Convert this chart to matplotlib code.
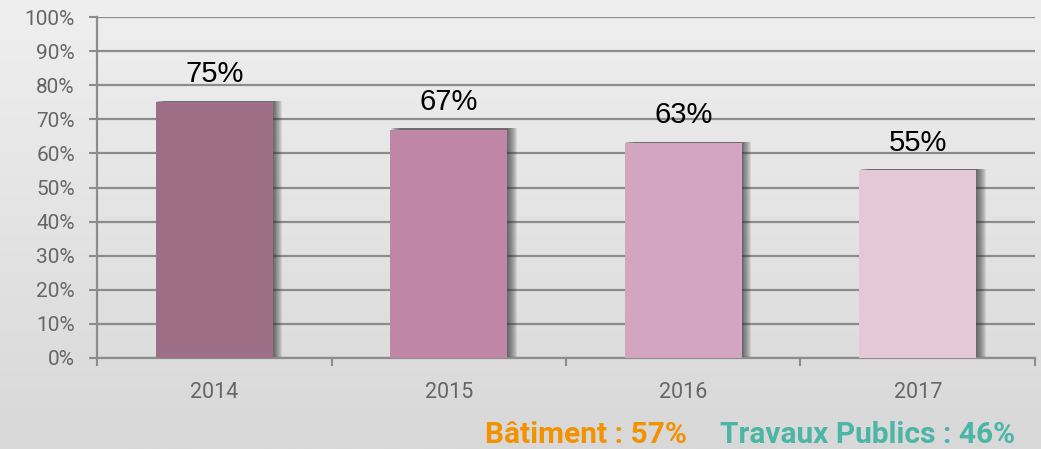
import numpy as np
import matplotlib.pyplot as plt
import matplotlib.patheffects as pe
from matplotlib.colors import LinearSegmentedColormap

years = ['2014', '2015', '2016', '2017']
values = [75, 67, 63, 55]
bar_colors = ['#9e6e87', '#bf86a5', '#d4a5c1', '#e4c8d8']
yticks = list(range(0, 101, 10))

fig = plt.figure(figsize=(10.41, 4.49), dpi=100)

# fond en degrade gris
bg = fig.add_axes([0, 0, 1, 1], zorder=-10)
grad = np.linspace(0, 1, 256).reshape(-1, 1)
bg.imshow(grad, aspect='auto', cmap=LinearSegmentedColormap.from_list('g', ['#efefef', '#d8d8d8']),
          extent=[0, 1, 0, 1], origin='upper')
bg.axis('off')

ax = fig.add_axes([0.0932, 0.2027, 0.9010, 0.7594])
ax.patch.set_alpha(0)
x = np.arange(len(years))
bars = ax.bar(x, values, width=0.5, color=bar_colors, zorder=3)

# ombre floue a droite des barres
shadow = [pe.SimplePatchShadow(offset=(d, 0.8), shadow_rgbFace='#333333', alpha=0.1) for d in np.arange(0.5, 7.5, 0.7)]
for b in bars:
    b.set_path_effects(shadow + [pe.Normal()])

for xi, v in zip(x, values):
    ax.text(xi, v + 5.8, f'{v}%', ha='center', va='baseline', fontsize=21,
            family='Liberation Sans', color='black', zorder=4)

ax.set_xlim(-0.5, len(years) - 0.5)
ax.set_ylim(0, 100)
ax.set_yticks(yticks)
ax.set_yticklabels([f'{t}%' for t in yticks], family='Roboto', fontsize=15, color='#666666')
ax.yaxis.grid(True, color='#8c8c8c', linewidth=1.6, zorder=1)
ax.set_axisbelow(True)

# ticks aux frontieres des categories
ax.set_xticks(np.arange(-0.5, len(years), 1))
ax.set_xticklabels([])
ax.set_xticks(x, minor=True)
ax.set_xticklabels(years, minor=True, family='Roboto', fontsize=15.5, color='#666666')
ax.tick_params(axis='x', which='minor', length=0, pad=17)
ax.tick_params(axis='x', which='major', length=6, width=1.5, color='#8c8c8c')
ax.tick_params(axis='y', length=6, width=1.5, color='#8c8c8c', pad=10)

for s in ['top', 'right']:
    ax.spines[s].set_visible(False)
for s in ['left', 'bottom']:
    ax.spines[s].set_color('#8c8c8c')
    ax.spines[s].set_linewidth(1.6)

fig.text(0.660, 0.0134, 'Bâtiment : 57%', color='#f39200', fontsize=21.5, fontweight='bold',
         family='Roboto', ha='right', va='baseline')
fig.text(0.692, 0.0134, 'Travaux Publics : 46%', color='#4bb5a6', fontsize=21.5, fontweight='bold',
         family='Roboto', ha='left', va='baseline')

fig.savefig('out.png', dpi=100)
